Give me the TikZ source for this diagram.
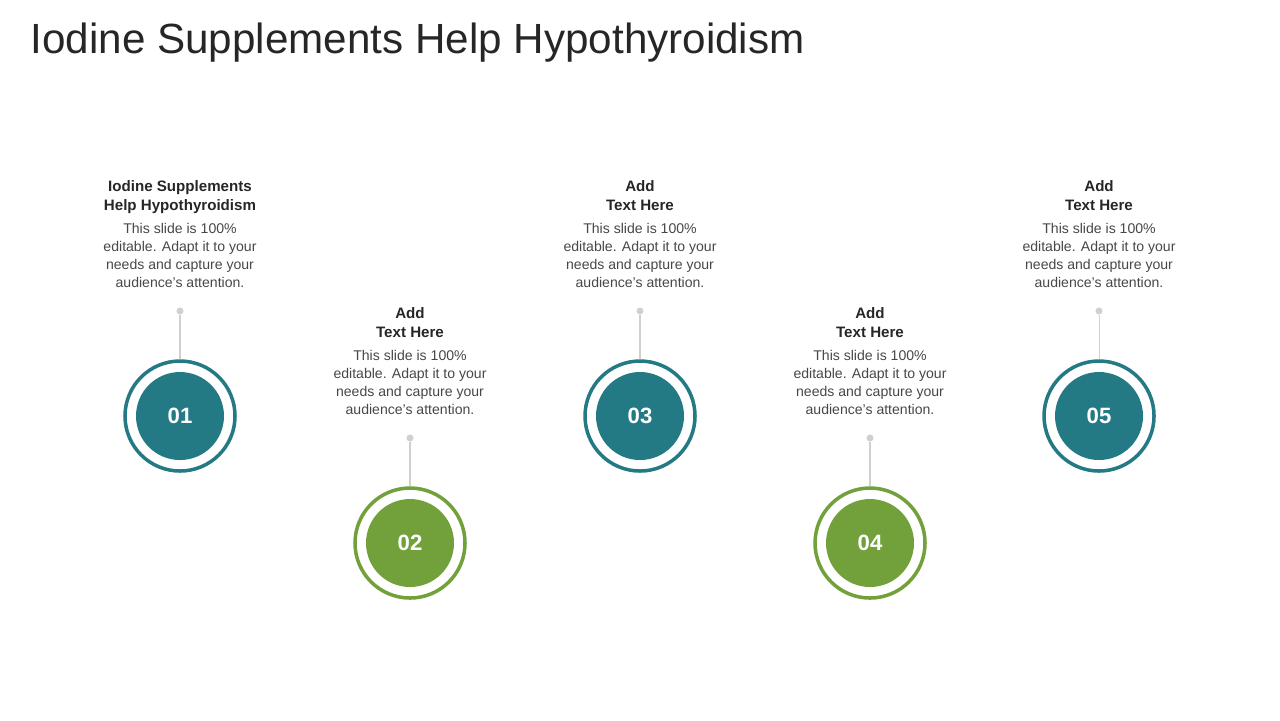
\documentclass[tikz,border=0pt]{standalone}
\usepackage{fontspec}
\setmainfont{Liberation Sans}
\definecolor{teal1}{HTML}{237A85}
\definecolor{green1}{HTML}{72A03A}
\definecolor{txt}{HTML}{262626}
\definecolor{dotc}{HTML}{D0D0D0}
\begin{document}
\begin{tikzpicture}[x=0.01cm,y=-0.01cm,
  ring/.style={circle,draw=#1,line width=1pt,minimum size=110*0.01cm,inner sep=0pt},
  disc/.style={circle,fill=#1,minimum size=88*0.01cm,inner sep=0pt,text=white,font=\fontsize{6.3}{7}\selectfont\bfseries},
  head/.style={align=center,font=\fontsize{4.3}{5.4}\selectfont\bfseries,text=txt,inner sep=0pt,anchor=north},
  body/.style={align=center,font=\fontsize{4.0}{5.1}\selectfont,text=txt!85,inner sep=0pt,anchor=north},
  dotn/.style={circle,fill=dotc,minimum size=7*0.01cm,inner sep=0pt},
  conn/.style={draw=dotc,line width=0.3pt}]
\useasboundingbox (0,0) rectangle (1280,720);
\node[anchor=west,inner sep=0pt,text=txt,font=\fontsize{12}{14}\selectfont] (title) at (30,43) {Iodine Supplements Help Hypothyroidism};
\foreach \i/\x/\y/\c/\h in {1/180/416/teal1/{Iodine Supplements\\Help Hypothyroidism},2/410/543/green1/{Add\\Text Here},3/640/416/teal1/{Add\\Text Here},4/870/543/green1/{Add\\Text Here},5/1099/416/teal1/{Add\\Text Here}}{
  \node[ring=\c] (r\i) at (\x,\y) {};
  \node[disc=\c] (d\i) at (\x,\y) {0\i};
  \node[dotn] (p\i) at (\x,\y-105) {};
  \draw[conn] (p\i) -- (r\i.north);
  \node[head] (h\i) at (\x,\y-236) {\h};
  \node[body] (b\i) at (\x,\y-193) {This slide is 100\%\\editable. Adapt it to your\\needs and capture your\\audience's attention.};
}
\end{tikzpicture}
\end{document}
